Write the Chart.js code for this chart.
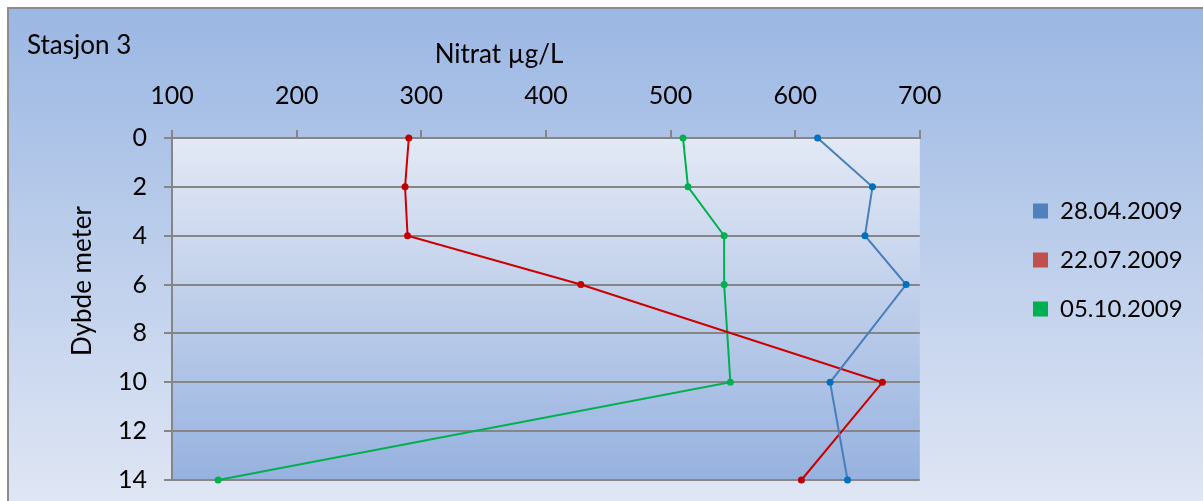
<!DOCTYPE html>
<html lang="no">
<head>
  <meta charset="UTF-8">
  <title>Stasjon 3 - Nitrat</title>
  <script src="https://cdn.jsdelivr.net/npm/chart.js"></script>
  <style>
    html, body { margin: 0; padding: 0; background: #fff; }
    #wrap { width: 1203px; height: 501px; }
  </style>
</head>
<body>
<div id="wrap"><canvas id="nitratChart" width="1203" height="501"></canvas></div>

<script>
// dybde (m) og nitrat (µg/L) per prøvedato
const dybder = [0, 2, 4, 6, 10, 14];
const nitrat_2804 = [618, 662, 656, 689, 628, 642];
const nitrat_2207 = [290, 287, 289, 428, 670, 605];
const nitrat_0510 = [510, 514, 543, 543, 548, 137];
const datoer = ['28.04.2009', '22.07.2009', '05.10.2009'];
const xMin = 100, xMax = 700, xSteg = 100;
const yMin = 0, yMax = 14, ySteg = 2;

const linjeFarger = ['#4a7ebb', '#cc0000', '#00b050'];
const punktFarger = ['#0070c0', '#c00000', '#00b050'];
const legendFarger = ['#4f81bd', '#c0504d', '#00b050'];

const FONT = 'Lato';
Chart.defaults.font.family = FONT;
Chart.defaults.font.size = 25;
Chart.defaults.color = '#000';

function punkter(verdier) {
  return dybder.map((d, i) => ({ x: verdier[i], y: d }));
}

const bakgrunn = {
  id: 'bakgrunn',
  afterLayout(chart) {
    // legg forklaringen lenger til høyre, som i Excel
    const lg = chart.legend;
    if (lg) {
      const w = lg.width;
      lg.left = 1008;
      lg.right = 1008 + w;
    }
  },
  beforeDraw(chart) {
    const { ctx, width, height, chartArea: a } = chart;
    ctx.save();
    ctx.fillStyle = '#fff';
    ctx.fillRect(0, 0, width, height);
    let g = ctx.createLinearGradient(0, 9, 0, height);
    g.addColorStop(0, '#9bb7e3');
    g.addColorStop(1, '#dfe6f4');
    ctx.fillStyle = g;
    ctx.fillRect(9, 9, width - 9, height - 9);
    ctx.strokeStyle = '#8c8c8c';
    ctx.lineWidth = 2;
    ctx.beginPath();
    ctx.moveTo(8, height);
    ctx.lineTo(8, 8);
    ctx.lineTo(width, 8);
    ctx.stroke();

    g = ctx.createLinearGradient(0, a.top, 0, a.bottom);
    g.addColorStop(0, '#e3e9f5');
    g.addColorStop(1, '#97b2df');
    ctx.fillStyle = g;
    ctx.fillRect(a.left, a.top, a.right - a.left, a.bottom - a.top);

    ctx.fillStyle = '#000';
    ctx.font = '26px ' + FONT;
    ctx.textBaseline = 'middle';
    ctx.textAlign = 'left';
    ctx.fillText('Stasjon 3', 27, 46);
    ctx.textAlign = 'center';
    ctx.fillText('Nitrat µg/L', 499, 55);
    ctx.translate(83, 281);
    ctx.rotate(-Math.PI / 2);
    ctx.fillText('Dybde meter', 0, 0);
    ctx.restore();
  }
};

const serier = [nitrat_2804, nitrat_2207, nitrat_0510];

new Chart(document.getElementById('nitratChart'), {
  type: 'scatter',
  data: {
    datasets: serier.map((s, i) => ({
      label: datoer[i],
      data: punkter(s),
      showLine: true,
      borderColor: linjeFarger[i],
      backgroundColor: legendFarger[i],
      borderWidth: 2,
      pointRadius: 3.5,
      pointBackgroundColor: punktFarger[i],
      pointBorderColor: punktFarger[i],
      pointBorderWidth: 0,
      clip: false
    }))
  },
  options: {
    responsive: false,
    animation: false,
    layout: { padding: { top: 40, right: 98.5, bottom: 21, left: 0 } },
    plugins: {
      title: { display: false },
      tooltip: { enabled: false },
      legend: {
        position: 'right',
        align: 'center',
        labels: {
          boxWidth: 15,
          boxHeight: 15,
          padding: 25,
          font: { size: 24 },
          generateLabels(chart) {
            return chart.data.datasets.map((ds, i) => ({
              text: ds.label,
              fillStyle: legendFarger[i],
              strokeStyle: legendFarger[i],
              lineWidth: 0,
              datasetIndex: i,
              hidden: false
            }));
          }
        }
      }
    },
    scales: {
      x: {
        type: 'linear',
        position: 'top',
        min: xMin,
        max: xMax,
        ticks: { stepSize: xSteg, padding: 19, font: { size: 25 } },
        grid: { drawOnChartArea: false, tickLength: 8, color: '#868686', lineWidth: 2 },
        border: { color: '#868686', width: 2 },
        afterFit(scale) { scale.height = 98; }
      },
      y: {
        type: 'linear',
        reverse: true,
        min: yMin,
        max: yMax,
        ticks: { stepSize: ySteg, padding: 17, font: { size: 25 } },
        grid: { tickLength: 8, color: '#868686', lineWidth: 2 },
        border: { color: '#868686', width: 2 },
        afterFit(scale) {
          scale.width = 172;
          scale.paddingTop = 0;
          scale.paddingBottom = 0;
        }
      }
    }
  },
  plugins: [bakgrunn]
});
</script>
</body>
</html>
